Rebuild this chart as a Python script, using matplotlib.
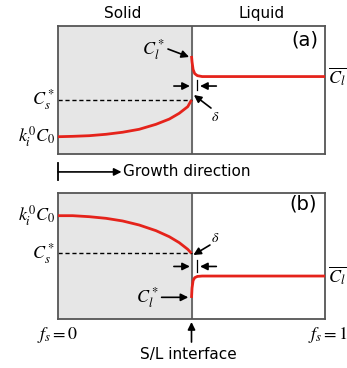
import matplotlib
matplotlib.use("Agg")
from matplotlib import pyplot as plt

plt.rcParams['mathtext.fontset'] = 'stix'
plt.rcParams['font.family'] = 'DejaVu Sans'

RED = '#e5231b'
EDGE = '#555555'
SHADE = '#e6e6e6'
INTERFACE = 0.5

# (a) solute rises in the solid towards the interface
a_solid_fs = [0.0, 0.055, 0.117, 0.18, 0.242, 0.304, 0.367, 0.417, 0.454,
              0.486, 0.5]
a_solid_c = [0.135, 0.138, 0.143, 0.154, 0.170, 0.193, 0.232, 0.273, 0.318,
             0.370, 0.422]
a_liquid_fs = [0.5, 0.502, 0.506, 0.512, 0.522, 0.54, 1.0]
a_liquid_c = [0.766, 0.72, 0.66, 0.628, 0.612, 0.605, 0.605]
a_cs_star = 0.422

# (b) solute falls in the solid towards the interface
b_solid_fs = [0.0, 0.055, 0.117, 0.18, 0.242, 0.304, 0.367, 0.417, 0.454,
              0.486, 0.5]
b_solid_c = [0.820, 0.820, 0.812, 0.799, 0.778, 0.746, 0.701, 0.653, 0.606,
             0.553, 0.521]
b_liquid_fs = [0.5, 0.502, 0.506, 0.512, 0.522, 0.54, 1.0]
b_liquid_c = [0.167, 0.246, 0.305, 0.328, 0.338, 0.341, 0.341]
b_cs_star = 0.521

fig = plt.figure(figsize=(3.47, 3.68), dpi=100)
ax_a = fig.add_axes([58/347, 1 - 154/368, 267/347, 128/368])
ax_b = fig.add_axes([58/347, 1 - 319/368, 267/347, 126/368])

arrow = dict(arrowstyle='-|>', color='black', lw=1.2, mutation_scale=11,
             shrinkA=0, shrinkB=0)


def base(ax, solid_fs, solid_c, liquid_fs, liquid_c, cs_star):
    ax.set_xlim(0, 1)
    ax.set_ylim(0, 1)
    ax.axvspan(0, INTERFACE, color=SHADE, zorder=0)
    ax.axvline(INTERFACE, color=EDGE, lw=1.2, zorder=1)
    ax.plot([0, INTERFACE], [cs_star, cs_star], color='black', lw=1.0,
            ls=(0, (3, 2)), zorder=2)
    ax.plot(solid_fs, solid_c, color=RED, lw=2.0, zorder=3,
            solid_capstyle='butt')
    ax.plot(liquid_fs, liquid_c, color=RED, lw=2.0, zorder=3,
            solid_capstyle='butt')
    ax.set_xticks([])
    ax.set_yticks([])
    for s in ax.spines.values():
        s.set_color(EDGE)
        s.set_linewidth(1.3)


def delta_marks(ax, y, tick_lo, tick_hi, lab_xy, tip, tail):
    ax.annotate('', xy=(0.494, y), xytext=(0.434, y), arrowprops=arrow,
                annotation_clip=False)
    ax.annotate('', xy=(0.532, y), xytext=(0.593, y), arrowprops=arrow,
                annotation_clip=False)
    ax.plot([0.519, 0.519], [tick_lo, tick_hi], color='black', lw=0.9)
    ax.annotate('', xy=tip, xytext=tail, arrowprops=arrow)
    ax.text(lab_xy[0], lab_xy[1], r'$\delta$', fontsize=10,
            ha='center', va='center')


math = dict(fontsize=13)

# panel (a)
base(ax_a, a_solid_fs, a_solid_c, a_liquid_fs, a_liquid_c, a_cs_star)
ax_a.text(0.243, 1.094, 'Solid', fontsize=11, ha='center', va='center')
ax_a.text(0.764, 1.094, 'Liquid', fontsize=11, ha='center', va='center')
ax_a.text(0.925, 0.89, '(a)', fontsize=14, ha='center', va='center')
ax_a.text(-0.012, a_cs_star, r'$C_s^*$', ha='right', va='center', **math)
ax_a.text(-0.012, a_solid_c[0], r'$k_i^0C_0$', ha='right', va='center', **math)
ax_a.text(1.01, a_liquid_c[-1], r'$\overline{C_l}$', ha='left', va='center',
          **math)
ax_a.text(0.40, 0.82, r'$C_l^*$', ha='right', va='center', **math)
ax_a.annotate('', xy=(0.491, 0.758), xytext=(0.412, 0.82), arrowprops=arrow)
delta_marks(ax_a, 0.531, 0.5, 0.578, (0.588, 0.289), (0.509, 0.461),
            (0.573, 0.359))

# growth direction marker between panels
ax_a.plot([0, 0], [-0.07, -0.205], color='black', lw=1.3, clip_on=False)
ax_a.annotate('', xy=(0.238, -0.14), xytext=(0.0, -0.14), arrowprops=arrow,
              annotation_clip=False)
ax_a.text(0.244, -0.14, 'Growth direction', fontsize=11, ha='left',
          va='center')

# panel (b)
base(ax_b, b_solid_fs, b_solid_c, b_liquid_fs, b_liquid_c, b_cs_star)
ax_b.text(0.918, 0.913, '(b)', fontsize=14, ha='center', va='center')
ax_b.text(-0.012, b_solid_c[0], r'$k_i^0C_0$', ha='right', va='center', **math)
ax_b.text(-0.012, b_cs_star, r'$C_s^*$', ha='right', va='center', **math)
ax_b.text(1.01, b_liquid_c[-1], r'$\overline{C_l}$', ha='left', va='center',
          **math)
ax_b.text(0.38, 0.167, r'$C_l^*$', ha='right', va='center', **math)
ax_b.annotate('', xy=(0.488, 0.172), xytext=(0.388, 0.172), arrowprops=arrow)
delta_marks(ax_b, 0.417, 0.375, 0.468, (0.588, 0.643), (0.507, 0.508),
            (0.569, 0.587))

ax_b.text(0.0, -0.127, r'$f_s=0$', ha='center', va='center', **math)
ax_b.text(1.01, -0.127, r'$f_s=1$', ha='center', va='center', **math)
ax_b.annotate('', xy=(0.5, -0.024), xytext=(0.5, -0.183), arrowprops=arrow,
              annotation_clip=False)
ax_b.text(0.49, -0.278, 'S/L interface', fontsize=11, ha='center',
          va='center')

fig.savefig('out.png', dpi=100)
